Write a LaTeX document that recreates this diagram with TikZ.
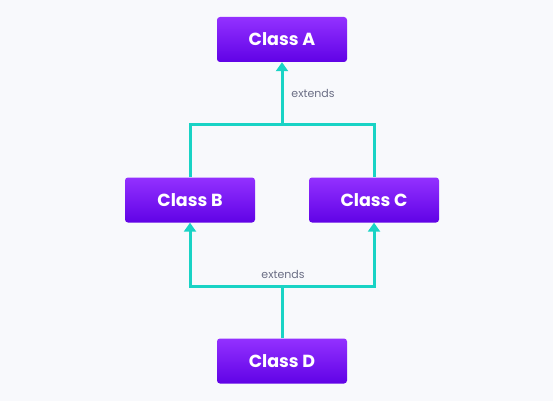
\documentclass[tikz,border=0pt]{standalone}
\usepackage{fontspec}
\setmainfont{Poppins}
\usetikzlibrary{arrows.meta}
\definecolor{bgcol}{HTML}{F8F9FC}
\definecolor{boxtop}{HTML}{9331FF}
\definecolor{boxbot}{HTML}{6002E6}
\definecolor{linkcol}{HTML}{19D3C5}
\definecolor{labcol}{HTML}{6B6E85}
\tikzset{
  classbox/.style={minimum width=130pt, minimum height=45pt, rounded corners=3pt,
    top color=boxtop, bottom color=boxbot, text=white,
    font=\fontsize{17.5}{20}\selectfont\bfseries, inner sep=0pt},
  link/.style={draw=linkcol, line width=3pt, line join=miter},
  tip/.style={-{Triangle[width=12pt,length=9pt]}},
  lab/.style={text=labcol, font=\fontsize{11}{13}\selectfont, inner sep=0pt}
}
\begin{document}
\begin{tikzpicture}[x=1pt,y=-1pt]
\fill [bgcol] (0,0) rectangle (553,401) ;
\node [classbox] (A) at (282,39.5) {Class A} ;
\node [classbox] (B) at (190,200) {Class B} ;
\node [classbox] (C) at (374,200) {Class C} ;
\node [classbox] (D) at (282,361) {Class D} ;
\coordinate (up) at (282,124) ;
\coordinate (down) at (282,286) ;
% B and C join above, then up to A
\draw [link] (B.north) |- (up) -| (C.north) ;
\draw [link,tip] (up) -- (A.south) ;
\node [lab] (ext1) at (313,93) {extends} ;
% D goes up, splits to B and C
\draw [link] (D.north) -- (down) ;
\draw [link,tip] (down) -| (B.south) ;
\draw [link,tip] (down) -| (C.south) ;
\node [lab] (ext2) at (283,274) {extends} ;
\end{tikzpicture}
\end{document}
